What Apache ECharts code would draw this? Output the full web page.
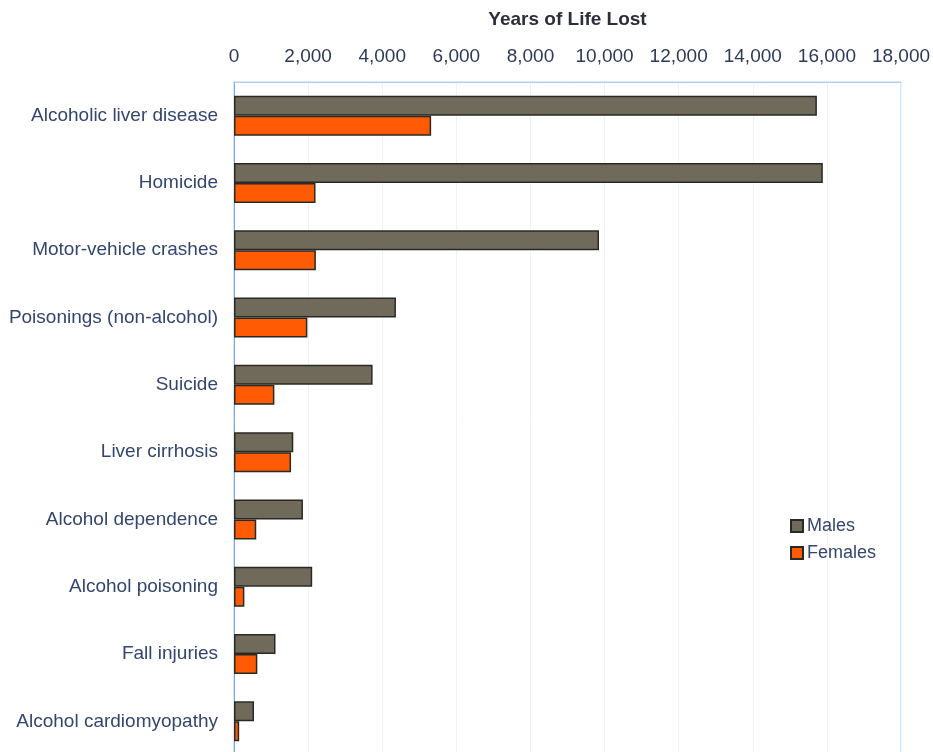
<!DOCTYPE html>
<html>
<head>
<meta charset="utf-8">
<script src="https://cdn.jsdelivr.net/npm/echarts@6/dist/echarts.min.js"></script>
<style>html,body{margin:0;padding:0;background:#fff;}#chart{width:933px;height:752px;}</style>
</head>
<body>
<div id="chart"></div>
<script>
const categories = [
  'Alcoholic liver disease',
  'Homicide',
  'Motor-vehicle crashes',
  'Poisonings (non-alcohol)',
  'Suicide',
  'Liver cirrhosis',
  'Alcohol dependence',
  'Alcohol poisoning',
  'Fall injuries',
  'Alcohol cardiomyopathy'
];
const males   = [15730, 15890, 9850, 4370, 3740, 1600, 1860, 2110, 1120, 540];
const females = [5320, 2200, 2210, 1980, 1090, 1540, 600, 280, 630, 140];
const seriesNames = ['Males', 'Females'];
const axisTitle = 'Years of Life Lost';

const chart = echarts.init(document.getElementById('chart'));
const labelColor = '#34466b';
chart.setOption({
  animation: false,
  backgroundColor: '#ffffff',
  textStyle: { fontFamily: 'Liberation Sans, Arial, sans-serif' },
  grid: {
    left: 234, right: 32, top: 82, height: 673,
    outerBoundsMode: 'none',
    containLabel: false,
    show: true, borderColor: '#b3cff0', borderWidth: 1
  },
  legend: {
    data: seriesNames,
    orient: 'vertical',
    left: 790, top: 517, padding: 0,
    itemWidth: 12, itemHeight: 12, itemGap: 9,
    icon: 'rect',
    textStyle: { fontSize: 18, color: labelColor, padding: [0, 0, 0, -1] }
  },
  xAxis: {
    type: 'value',
    position: 'top',
    min: 0, max: 18000, interval: 2000,
    name: axisTitle,
    nameLocation: 'middle',
    nameGap: 53,
    nameTextStyle: { fontSize: 19, fontWeight: 'bold', color: '#2c2f3a' },
    axisLine: { show: true, lineStyle: { color: '#a9c8ee', type: 'dotted' } },
    axisTick: { show: false },
    axisLabel: {
      fontSize: 19, color: '#2e3a55', margin: 16,
      formatter: v => v.toLocaleString('en-US')
    },
    splitLine: { show: true, lineStyle: { color: '#eef3fa', width: 1 } }
  },
  yAxis: {
    type: 'category',
    data: categories,
    inverse: true,
    axisLine: { show: true, lineStyle: { color: '#7fa6d6', width: 1 } },
    axisTick: { show: false },
    axisLabel: { fontSize: 19, color: labelColor, margin: 16 }
  },
  series: [
    {
      name: seriesNames[0], type: 'bar', data: males,
      barWidth: 20, barGap: '0%',
      itemStyle: { color: '#706a5a', borderColor: '#2a2a24', borderWidth: 1.5 }
    },
    {
      name: seriesNames[1], type: 'bar', data: females,
      barWidth: 20, barGap: '0%',
      itemStyle: { color: '#ff5a04', borderColor: '#2a2a24', borderWidth: 1.5 }
    }
  ]
});
</script>
</body>
</html>
